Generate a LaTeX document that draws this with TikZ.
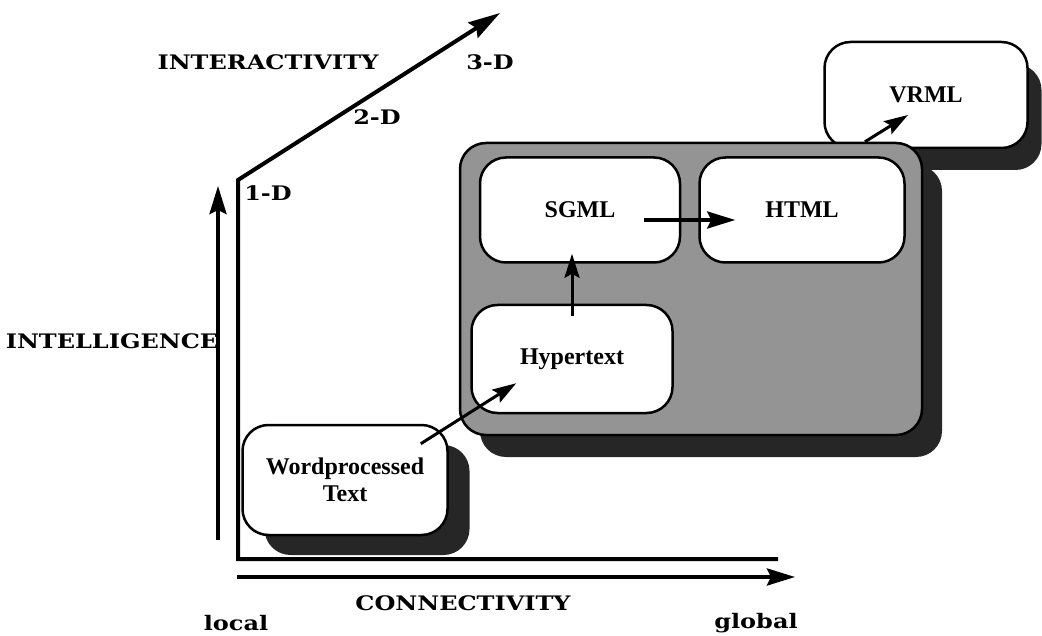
\documentclass[tikz,border=0pt]{standalone}
\usepackage{fontspec}
\setmainfont{Liberation Serif}
\newfontfamily\axisfont[FakeStretch=1.2]{DejaVu Serif Bold}
\usetikzlibrary{arrows.meta,shadows}

\tikzset{
  box/.style={draw, fill=white, line width=2.5pt, rounded corners=26pt,
    inner sep=0pt, align=center, font=\fontsize{24}{27}\selectfont\bfseries},
  shade box/.style 2 args={drop shadow={shadow xshift=#1, shadow yshift=#2,
    fill=black!85, opacity=1}},
  lab/.style={inner sep=0pt, font=\fontsize{20}{22}\axisfont},
  arr/.style={-{Stealth[length=28pt,width=17pt,inset=4pt]}, line width=3.5pt},
  small arr/.style={-{Stealth[length=24pt,width=15pt,inset=4pt]}, line width=3pt},
}

\begin{document}
\begin{tikzpicture}[x=1pt,y=-1pt]
\useasboundingbox (0,0) rectangle (1042,636);

% axes
\coordinate (o) at (238,559);
\draw[line width=4pt, -{Stealth[length=32pt,width=18pt,inset=4pt]}]
  (778,559) -- (o) -- (238,180) -- (500,13);
\draw[arr] (218,540) -- (218,186);
\draw[arr] (237,577) -- (795,577);

\node[lab] (inter) at (268,62) {INTERACTIVITY};
\node[lab] (d3) at (490,62) {3-D};
\node[lab] (d2) at (377,117) {2-D};
\node[lab] (d1) at (268,193) {1-D};
\node[lab] (intel) at (112,341) {INTELLIGENCE};
\node[lab] (conn) at (463,603) {CONNECTIVITY};
\node[lab] (local) at (236,623) {local};
\node[lab] (global) at (756,623) {global};

% boxes
\node[box, shade box={14pt}{-22pt}, minimum width=203pt, minimum height=106pt] (vrml) at (926,95) {VRML};
\node[box, shade box={20pt}{-22pt}, fill=black!42, minimum width=462pt, minimum height=292pt] (web) at (691,289) {};
\node[box, minimum width=200pt, minimum height=105pt] (sgml) at (580,210) {SGML};
\node[box, minimum width=205pt, minimum height=105pt] (html) at (802,210) {HTML};
\node[box, minimum width=201pt, minimum height=108pt] (hyper) at (572,359) {Hypertext};
\node[box, shade box={22pt}{-20pt}, minimum width=205pt, minimum height=110pt] (word) at (345,480) {Wordprocessed\\Text};

% links
\draw[arr] ([xshift=-37pt,yshift=-10pt]sgml.east) -- ([xshift=37pt,yshift=-10pt]html.west);
\draw[small arr] ([yshift=-12pt]hyper.north) -- ([yshift=10pt]hyper.north |- sgml.south);
\draw[small arr] ([xshift=-28pt,yshift=-20pt]word.north east) -- ([xshift=46pt,yshift=31pt]hyper.south west);
\draw[small arr] ([xshift=174pt]web.north) -- ([xshift=-18pt,yshift=-20pt]vrml.center);
\end{tikzpicture}
\end{document}
